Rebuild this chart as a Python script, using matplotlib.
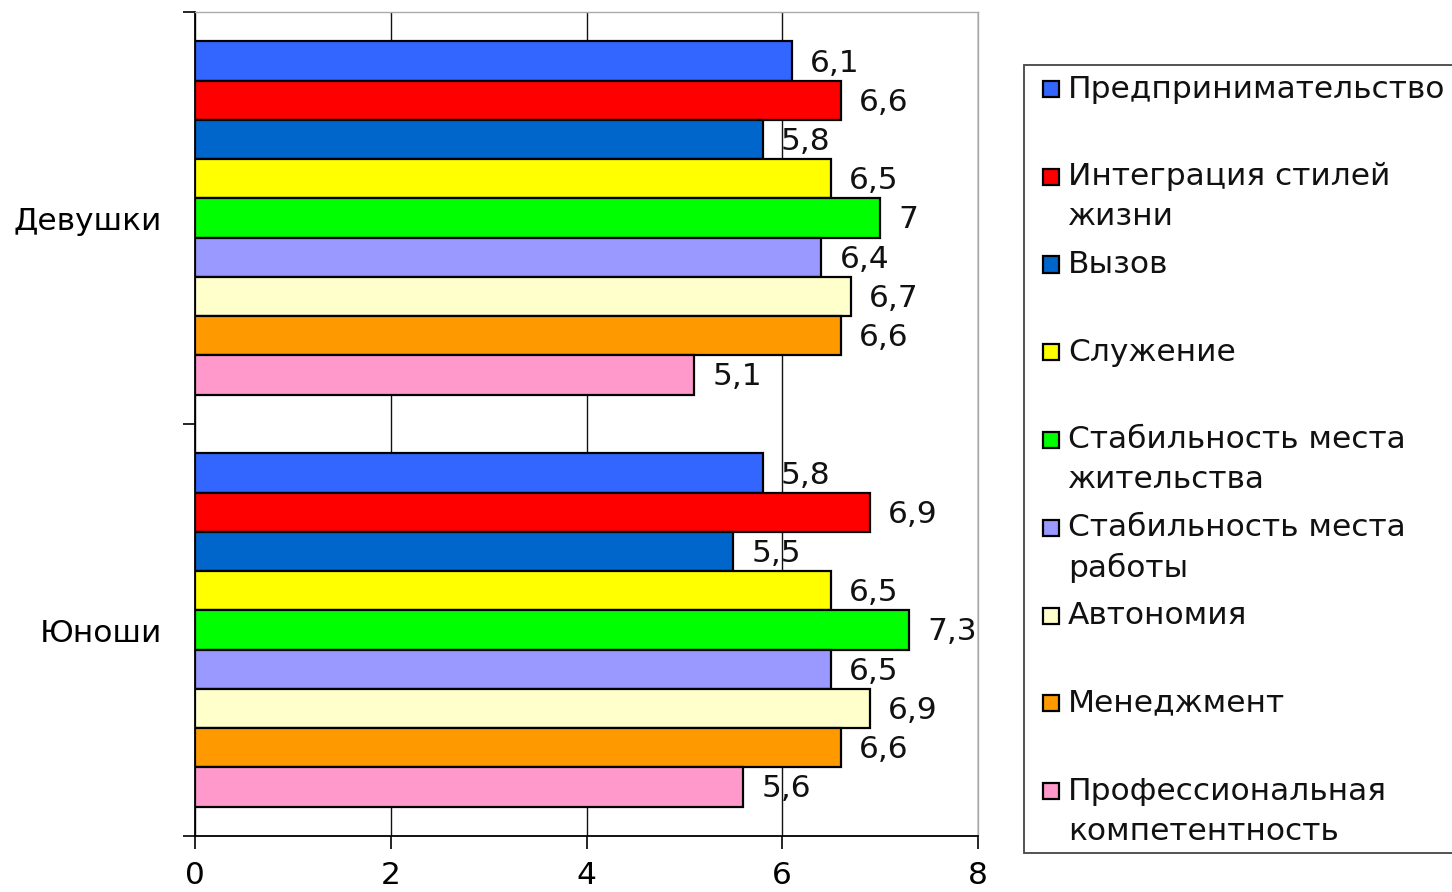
import matplotlib
matplotlib.use("Agg")
import matplotlib.pyplot as plt
from matplotlib.patches import Rectangle
import numpy as np

plt.rcParams['font.family'] = ['DejaVu Sans']

categories = ["Юноши", "Девушки"]
series = ["Предпринимательство", "Интеграция стилей\nжизни", "Вызов", "Служение",
          "Стабильность места\nжительства", "Стабильность места\nработы", "Автономия",
          "Менеджмент", "Профессиональная\nкомпетентность"]
colors = ["#3366FF", "#FF0000", "#0066CC", "#FFFF00", "#00FF00", "#9999FF",
          "#FFFFCC", "#FF9900", "#FF99CC"]
girls = [6.1, 6.6, 5.8, 6.5, 7.0, 6.4, 6.7, 6.6, 5.1]
boys = [5.8, 6.9, 5.5, 6.5, 7.3, 6.5, 6.9, 6.6, 5.6]
values = {"Юноши": boys, "Девушки": girls}
xticks = [0, 2, 4, 6, 8]

W, H = 1452, 892
fig = plt.figure(figsize=(W / 100, H / 100), dpi=100)
ax = fig.add_axes([195 / W, (H - 836) / H, (978 - 195) / W, (836 - 12) / H])

n = len(series)
h = 1.0 / (n + 1.5)
FS = 22.5

def fmt(v):
    s = ("%.1f" % v).rstrip('0').rstrip('.')
    return s.replace('.', ',')

for ci, cat in enumerate(categories):
    vals = values[cat]
    for i in range(n):
        y = ci + (n - 1) / 2 * h - i * h
        ax.barh(y, vals[i], height=h, color=colors[i], edgecolor='black', linewidth=1.6, zorder=3)
        ax.annotate(fmt(vals[i]), (vals[i], y), xytext=(18, -2), textcoords='offset pixels',
                    ha='left', va='center', fontsize=FS, color='#111111', zorder=4)

ax.set_xlim(0, 8)
ax.set_ylim(-0.5, 1.5)
ax.set_xticks(xticks)
ax.set_xticklabels([str(t) for t in xticks], fontsize=FS)
ax.tick_params(axis='x', length=9, width=1.2, direction='out', pad=9, color='black')
ax.set_yticks([-0.5, 0.5, 1.5])
ax.set_yticklabels([])
ax.tick_params(axis='y', which='major', length=9, width=1.2, direction='out')
ax.set_yticks([0, 1], minor=True)
ax.set_yticklabels(categories, minor=True, fontsize=FS)
ax.tick_params(axis='y', which='minor', length=0, pad=24)

ax.grid(axis='x', color='#111111', linewidth=1.0, zorder=0)
for s in ['top', 'right']:
    ax.spines[s].set_color('#aaaaaa')
    ax.spines[s].set_linewidth(1.0)
for s in ['left', 'bottom']:
    ax.spines[s].set_color('black')
    ax.spines[s].set_linewidth(1.3)

# Legend (drawn manually to mimic the original layout)
def fx(px):
    return px / W
def fy(py):
    return (H - py) / H

fig.patches.append(Rectangle((fx(1024), fy(853)), fx(1470) - fx(1024), fy(65) - fy(853),
                             transform=fig.transFigure, facecolor='white', edgecolor='#444444',
                             linewidth=1.3, zorder=1))
y0, step, lstep = 89, 87.75, 40
for i, (lab, col) in enumerate(zip(series, colors)):
    yc = y0 + i * step
    fig.patches.append(Rectangle((fx(1043), fy(yc + 8)), fx(16), 16 / H,
                                 transform=fig.transFigure, facecolor=col,
                                 edgecolor='black', linewidth=1.6, zorder=2))
    for j, line in enumerate(lab.split("\n")):
        fig.text(fx(1068), fy(yc + j * lstep), line, ha='left', va='center',
                 fontsize=FS, color='#111111', zorder=3)

fig.savefig("out.png", dpi=100, facecolor='white')
